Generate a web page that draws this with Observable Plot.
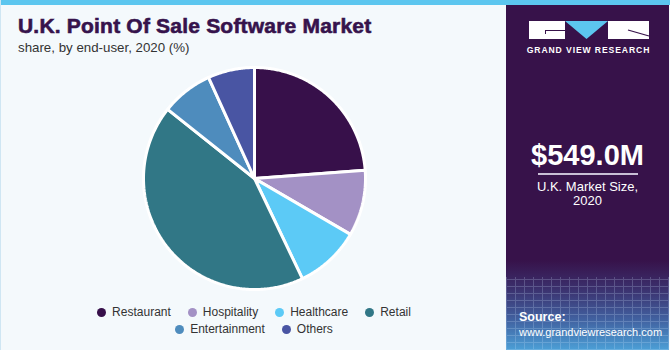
<!DOCTYPE html>
<html>
<head>
<meta charset="utf-8">
<script src="https://cdn.jsdelivr.net/npm/d3@7"></script>
<script src="https://cdn.jsdelivr.net/npm/@observablehq/plot@0.6"></script>
<style>
  html, body { margin: 0; padding: 0; background: #f4f9fc; }
  #page { position: relative; width: 670px; height: 350px; overflow: hidden; background: #f4f9fc;
          font-family: "Liberation Sans", Arial, sans-serif; box-sizing: border-box; border-left: 1px solid #cfe6f3; }
  #topband { position: absolute; left: 0; top: 0; width: 670px; height: 5px; background: #5cc6ef; }
  #title { position: absolute; left: 17px; top: 14px; font-size: 21px; font-weight: bold; color: #36134c;
           white-space: nowrap; letter-spacing: 0.2px; -webkit-text-stroke: 0.6px #36134c; }
  #subtitle { position: absolute; left: 17px; top: 40px; font-size: 13.3px; color: #333; white-space: nowrap; }
  #chart { position: absolute; left: 138px; top: 63px; }
  #legend { position: absolute; left: 83px; top: 305px; width: 340px; display: flex; flex-wrap: wrap;
            justify-content: center; column-gap: 17px; row-gap: 3px; font-size: 12px; color: #333; }
  .item { display: flex; align-items: center; white-space: nowrap; }
  .dot { width: 9px; height: 9px; border-radius: 50%; margin-right: 6px; }
  #panel { position: absolute; left: 505px; top: 5px; width: 163px; height: 345px; overflow: hidden;
           background: linear-gradient(#37124a 0%, #37124a 74%, #3b2f6c 82%, #41609f 91%, #4c9fd6 100%); }
  #grid { position: absolute; left: 0; top: 272px; width: 163px; height: 73px; opacity: 0.22;
          background-image: repeating-linear-gradient(90deg, #cfe6ff 0 1px, transparent 1px 9px),
                            repeating-linear-gradient(0deg, #cfe6ff 0 1px, transparent 1px 7px); }
  #panel .t { position: absolute; width: 163px; text-align: center; color: #fff; white-space: nowrap; }
  .blk { position: absolute; background: #fff; }
</style>
</head>
<body>
<div id="page">
  <div id="topband"></div>
  <div id="title"></div>
  <div id="subtitle"></div>
  <div id="chart"></div>
  <div id="legend"></div>
  <div id="panel">
    <div id="grid"></div>
    <div class="blk" style="left:23px;top:16px;width:36px;height:18px;"></div>
    <div style="position:absolute;left:39px;top:25px;width:20px;height:1px;background:#37124a"></div>
    <div style="position:absolute;left:39px;top:25px;width:1px;height:4px;background:#37124a"></div>
    <div class="blk" style="left:102px;top:16px;width:41px;height:18px;"></div>
    <svg width="163" height="60" style="position:absolute;left:0;top:0">
      <path d="M59 16 L102 16 L80.5 34 Z" fill="#5cc6ef"/>
      <path d="M122 25 L143 31" fill="none" stroke="#37124a" stroke-width="1.2"/>
      <text x="82.5" y="48" text-anchor="middle" fill="#fff" font-size="8.6" font-weight="bold" letter-spacing="0.9"
            font-family="Liberation Sans, Arial, sans-serif">GRAND VIEW RESEARCH</text>
    </svg>
    <div class="t" id="size" style="top:134px;font-size:29px;font-weight:bold;"></div>
    <div style="position:absolute;left:32px;top:168px;width:100px;height:1.5px;background:#c9bfd6"></div>
    <div class="t" id="sizelabel" style="top:175px;font-size:13px;line-height:14px;"></div>
    <div id="source" style="position:absolute;left:13px;top:305px;color:#fff;font-size:11px;line-height:15px;white-space:nowrap;"></div>
  </div>
</div>
<script>
const titleText = "U.K. Point Of Sale Software Market";
const subtitleText = "share, by end-user, 2020 (%)";
const categories = ["Restaurant", "Hospitality", "Healthcare", "Retail", "Entertainment", "Others"];
const shares = [23.8, 9.6, 9.5, 42.8, 7.5, 6.8];
const colors = ["#37104a", "#a391c5", "#5ccaf6", "#317786", "#4e8cbd", "#4955a3"];
const marketSize = "$549.0M";
const marketLabel = ["U.K. Market Size,", "2020"];
const sourceLines = ["Source:", "www.grandviewresearch.com"];

document.getElementById("title").textContent = titleText;
document.getElementById("subtitle").textContent = subtitleText;
document.getElementById("size").textContent = marketSize;
document.getElementById("sizelabel").innerHTML = marketLabel.join("<br>");
document.getElementById("source").innerHTML = "<b style='font-size:12.5px'>" + sourceLines[0] + "</b><br>" + sourceLines[1];

const data = categories.map((c, i) => ({cat: c, share: shares[i]}));
const arcs = d3.pie().sort(null).value(d => d.share)(data);
const pts = [];
for (const a of arcs) {
  const c = a.data.cat;
  pts.push({cat: c, x: 0, y: 0});
  const n = Math.max(4, Math.ceil((a.endAngle - a.startAngle) / 0.01));
  for (let k = 0; k <= n; k++) {
    const t = a.startAngle + (a.endAngle - a.startAngle) * k / n;
    pts.push({cat: c, x: Math.sin(t), y: Math.cos(t)});
  }
  pts.push({cat: c, x: 0, y: 0});
}

const S = 230, R = 111;
const ext = (S / 2) / R;
const plot = Plot.plot({
  width: S, height: S, margin: 0,
  x: {domain: [-ext, ext], axis: null},
  y: {domain: [-ext, ext], axis: null},
  color: {domain: categories, range: colors},
  style: {background: "transparent"},
  marks: [
    Plot.line(pts, {x: "x", y: "y", z: "cat", fill: "cat", stroke: "white", strokeWidth: 3, strokeLinejoin: "miter"})
  ]
});
document.getElementById("chart").appendChild(plot);

const legend = document.getElementById("legend");
categories.forEach((c, i) => {
  const it = document.createElement("div");
  it.className = "item";
  it.innerHTML = `<span class="dot" style="background:${colors[i]}"></span>${c}`;
  legend.appendChild(it);
});
</script>
</body>
</html>
